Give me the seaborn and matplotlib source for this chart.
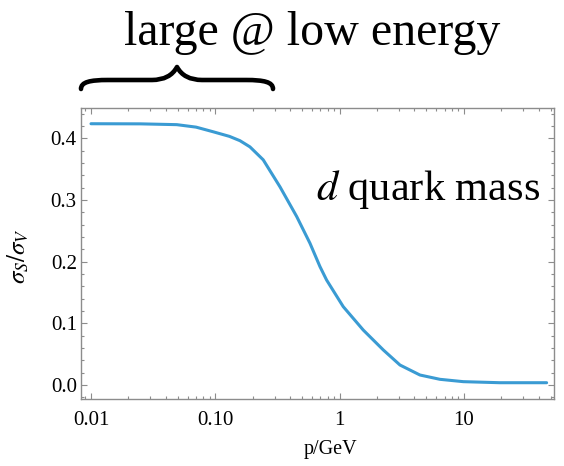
import matplotlib
matplotlib.use("Agg")
import matplotlib.pyplot as plt
import seaborn as sns
import pandas as pd
from matplotlib.path import Path
from matplotlib.patches import PathPatch
from matplotlib.ticker import FixedLocator, LogLocator, MultipleLocator, NullFormatter

# data
momentum = [0.01, 0.025, 0.049, 0.07, 0.096, 0.13, 0.158, 0.19, 0.243, 0.332, 0.452, 0.578,
            0.695, 0.787, 1.07, 1.55, 2.25, 3.06, 4.43, 6.42, 9.9, 19.5, 46.3]
ratio = [0.4235, 0.4233, 0.422, 0.418, 0.4105, 0.403, 0.396, 0.386, 0.365, 0.321, 0.273, 0.2297,
         0.192, 0.170, 0.127, 0.0891, 0.0567, 0.0324, 0.0162, 0.0092, 0.0054, 0.0037, 0.0037]
x_ticks = [0.01, 0.1, 1, 10]
x_tick_labels = ["0.01", "0.10", "1", "10"]
y_ticks = [0.0, 0.1, 0.2, 0.3, 0.4]
y_tick_labels = ["0.0", "0.1", "0.2", "0.3", "0.4"]

sns.set_theme(style="white")
plt.rcParams["font.family"] = ["Liberation Serif", "DejaVu Serif"]
plt.rcParams["mathtext.fontset"] = "stix"

df = pd.DataFrame({"p": momentum, "r": ratio})

fig = plt.figure(figsize=(5.64, 4.66), dpi=100)
ax = fig.add_axes([81 / 564, 1 - 399 / 466, (554 - 81) / 564, (399 - 108) / 466])

sns.lineplot(data=df, x="p", y="r", ax=ax, color="#3a9bd3", linewidth=2.2)

ax.set_xscale("log")
ax.set_xlim(0.00831, 53.1)
ax.set_ylim(-0.0227, 0.449)

ax.xaxis.set_major_locator(FixedLocator(x_ticks))
ax.set_xticklabels(x_tick_labels)
ax.xaxis.set_minor_locator(LogLocator(base=10, subs=[2, 3, 4, 5, 6, 7, 8, 9]))
ax.xaxis.set_minor_formatter(NullFormatter())
ax.yaxis.set_major_locator(FixedLocator(y_ticks))
ax.set_yticklabels(y_tick_labels)
ax.yaxis.set_minor_locator(MultipleLocator(0.02))

frame_col = "#8c8c8c"
for s in ax.spines.values():
    s.set_color(frame_col)
    s.set_linewidth(1.0)
    s.set_visible(True)

ax.tick_params(which="both", direction="in", top=True, right=True, bottom=True, left=True,
               color=frame_col, width=0.8)
ax.tick_params(which="major", length=4.3, labelsize=15, labelcolor="black")
ax.tick_params(which="minor", length=2.2)
ax.tick_params(axis="x", which="major", pad=8.5)
ax.tick_params(axis="y", which="major", pad=3)

ax.set_xlabel("p/GeV", fontsize=14.5, color="black")
ax.xaxis.set_label_coords((330 - 81) / (554 - 81), -0.14)
ax.set_ylabel(r"$\sigma_S/\sigma_V$", fontsize=18, color="black")
ax.yaxis.set_label_coords(-0.105, 0.49)

ax.text((540 - 81) / 473, (399 - 200) / 291, r"$d$ quark mass", transform=ax.transAxes,
        ha="right", va="baseline", fontsize=30.5, color="black")

fig.text(312 / 564, 1 - 45 / 466, "large @ low energy", ha="center", va="baseline",
         fontsize=34.5, color="black")

# curly brace (annotation) in figure pixel coords
W, H = 564, 466
def P(x, y):
    return (x / W, 1 - y / H)

verts = [P(81, 89), P(81, 82), P(90, 80), P(108, 80),
         P(152, 80), P(170, 80), P(177, 67),
         P(184, 80), P(202, 80), P(246, 80),
         P(264, 80), P(273, 82), P(273, 89)]
codes = [Path.MOVETO, Path.CURVE4, Path.CURVE4, Path.CURVE4,
         Path.LINETO, Path.CURVE3, Path.CURVE3,
         Path.CURVE3, Path.CURVE3, Path.LINETO,
         Path.CURVE4, Path.CURVE4, Path.CURVE4]
brace = PathPatch(Path(verts, codes), transform=fig.transFigure, fill=False,
                  edgecolor="black", linewidth=3.3, capstyle="round", joinstyle="round")
fig.patches.append(brace)

fig.savefig("out.png", dpi=100)
